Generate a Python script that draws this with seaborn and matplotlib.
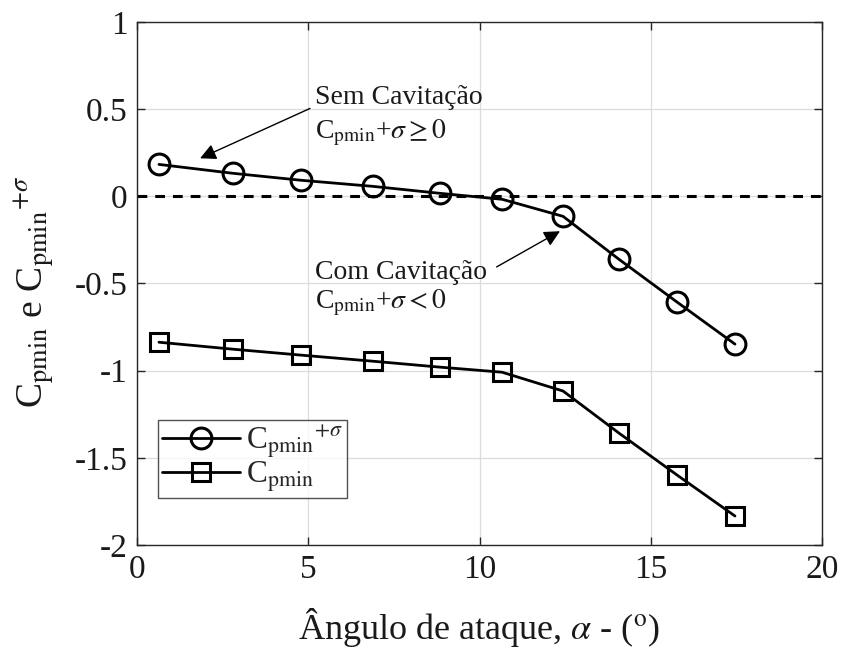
import matplotlib
matplotlib.use("Agg")
import matplotlib.pyplot as plt
import seaborn as sns
import pandas as pd

# ---- data ----
alpha = [0.64, 2.80, 4.79, 6.89, 8.85, 10.66, 12.44, 14.07, 15.77, 17.46]
cp_sigma = [0.183, 0.132, 0.092, 0.057, 0.017, -0.017, -0.115, -0.361, -0.607, -0.848]
cp_min = [-0.837, -0.877, -0.911, -0.946, -0.980, -1.009, -1.117, -1.358, -1.599, -1.834]
x_ticks = [0, 5, 10, 15, 20]
y_ticks = [-2, -1.5, -1, -0.5, 0, 0.5, 1]
y_tick_labels = ["-2", "-1.5", "-1", "-0.5", "0", "0.5", "1"]

sns.set_theme(style="white")
plt.rcParams["font.family"] = ["Liberation Serif", "DejaVu Serif"]
plt.rcParams["mathtext.fontset"] = "stix"

df1 = pd.DataFrame({"alpha": alpha, "val": cp_sigma})
df2 = pd.DataFrame({"alpha": alpha, "val": cp_min})

fig = plt.figure(figsize=(8.46, 6.54), dpi=100)
ax = fig.add_axes([0.162, 0.1667, 0.8096, 0.7997])

ax.axhline(0, color="black", lw=2.2, ls=(0, (3.2, 2.6)), zorder=2)

sns.lineplot(data=df1, x="alpha", y="val", ax=ax, color="black", lw=2,
             marker="o", markersize=15, markerfacecolor="none",
             markeredgecolor="black", markeredgewidth=2.2,
             label=r"C$_{\mathrm{pmin}}{}^{+\sigma}$", zorder=3)
sns.lineplot(data=df2, x="alpha", y="val", ax=ax, color="black", lw=2,
             marker="s", markersize=13, markerfacecolor="none",
             markeredgecolor="black", markeredgewidth=2.2,
             label=r"C$_{\mathrm{pmin}}$", zorder=3)

ax.set_xlim(0, 20)
ax.set_ylim(-2, 1)
ax.set_xticks(x_ticks)
ax.set_xticklabels([str(t) for t in x_ticks])
ax.set_yticks(y_ticks)
ax.set_yticklabels(y_tick_labels)
ax.grid(True, color="#dcdcdc", lw=0.9)
ax.set_axisbelow(True)
for s in ax.spines.values():
    s.set_color("#262626")
    s.set_linewidth(1.0)
ax.tick_params(axis="both", direction="in", length=6, width=1, color="#262626",
               labelsize=24, labelcolor="#1a1a1a", top=True, right=True,
               bottom=True, left=True, pad=7)

ax.set_xlabel(r"Ângulo de ataque, $\alpha$ - ($^{\mathrm{o}}$)", fontsize=26,
              color="#1a1a1a")
ax.xaxis.set_label_coords(0.5, -0.117)
ax.set_ylabel(r"C$_{\mathrm{pmin}}$ e C$_{\mathrm{pmin}}{}^{+\sigma}$", fontsize=27,
              color="#1a1a1a")
ax.yaxis.set_label_coords(-0.118, 0.485)

# annotation texts
txt_kw = dict(fontsize=20, color="#1a1a1a", ha="left", va="baseline")
ax.text(5.2, 0.527, "Sem Cavitação", **txt_kw)
ax.text(5.2, 0.332, r"C$_{\mathrm{pmin}}$+$\sigma \geq 0$", **txt_kw)
ax.text(5.2, -0.476, "Com Cavitação", **txt_kw)
ax.text(5.2, -0.642, r"C$_{\mathrm{pmin}}$+$\sigma < 0$", **txt_kw)

arrow_kw = dict(arrowstyle="-|>", color="black", lw=1, mutation_scale=24,
                shrinkA=0, shrinkB=0)
ax.annotate("", xy=(1.84, 0.218), xytext=(5.05, 0.504), arrowprops=arrow_kw)
ax.annotate("", xy=(12.35, -0.20), xytext=(10.5, -0.405), arrowprops=arrow_kw)

leg = ax.legend(loc="lower left", bbox_to_anchor=(0.031, 0.09), fontsize=22.5,
                frameon=True, fancybox=False, edgecolor="#262626",
                handlelength=2.5, handletextpad=0.2, borderpad=0.12,
                labelspacing=0.0, borderaxespad=0)
leg.get_frame().set_linewidth(1.0)

fig.savefig("out.png", dpi=100)
